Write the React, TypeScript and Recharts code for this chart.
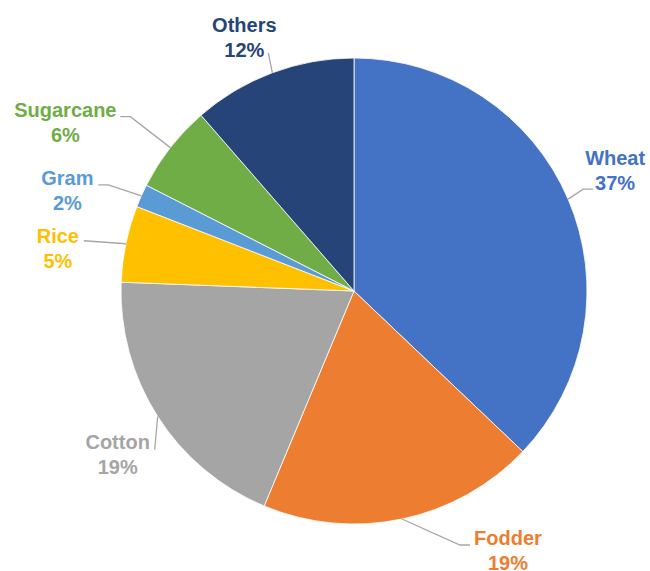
import { PieChart, Pie, Cell } from 'recharts'

const crops = ['Wheat', 'Fodder', 'Cotton', 'Rice', 'Gram', 'Sugarcane', 'Others']
const shares = [37.1, 19.2, 19.3, 5.3, 1.6, 6.1, 11.4]
const shareLabels = ['37%', '19%', '19%', '5%', '2%', '6%', '12%']
const colors = ['#4472C4', '#ED7D31', '#A5A5A5', '#FFC000', '#5B9BD5', '#70AD47', '#264478']

// leader-line knee (kx, ky), horizontal tail, text centre (tx, ty): all relative to the slice's outer edge midpoint
const labelLayout = [
  { kx: 15, ky: -10, tail: 10, tx: 47, ty: -29 },
  { kx: 58, ky: 26, tail: 10, tx: 106, ty: 31 },
  { kx: -3, ky: 33, tail: 0, tx: -40, ty: 38 },
  { kx: -42, ky: -3, tail: 0, tx: -68, ty: 4 },
  { kx: -33, ky: -11, tail: -10, tx: -74, ty: -6 },
  { kx: -40, ky: -31, tail: -10, tx: -105, ty: -26 },
  { kx: -4, ky: -20, tail: 0, tx: -28, ty: -36 },
]

const data = crops.map((name, i) => ({ name, value: shares[i], pct: shareLabels[i] }))

const RAD = Math.PI / 180

function renderLabel(props: any) {
  const { cx, cy, midAngle, outerRadius, index } = props
  const ex = cx + outerRadius * Math.cos(-midAngle * RAD)
  const ey = cy + outerRadius * Math.sin(-midAngle * RAD)
  const l = labelLayout[index]
  const kx = ex + l.kx
  const ky = ey + l.ky
  const color = colors[index]
  const tx = ex + l.tx
  const ty = ey + l.ty
  return (
    <g key={`lbl-${index}`}>
      <polyline
        points={`${ex},${ey} ${kx},${ky} ${kx + l.tail},${ky}`}
        fill="none"
        stroke="#A6A6A6"
        strokeWidth={1.3}
      />
      <text
        x={tx}
        y={ty - 12}
        fill={color}
        textAnchor="middle"
        dominantBaseline="central"
        fontSize={20}
        fontWeight="bold"
        fontFamily="'Liberation Sans', Arial, sans-serif"
      >
        {data[index].name}
      </text>
      <text
        x={tx}
        y={ty + 13}
        fill={color}
        textAnchor="middle"
        dominantBaseline="central"
        fontSize={20}
        fontWeight="bold"
        fontFamily="'Liberation Sans', Arial, sans-serif"
      >
        {data[index].pct}
      </text>
    </g>
  )
}

export default function App() {
  return (
    <div style={{ position: 'absolute', left: 0, top: 0, width: 650, height: 571, background: '#fff' }}>
      <PieChart width={650} height={571} margin={{ top: 0, right: 0, bottom: 0, left: 0 }}>
        <Pie
          data={data}
          dataKey="value"
          nameKey="name"
          cx={354}
          cy={291}
          outerRadius={233}
          startAngle={90}
          endAngle={-270}
          stroke="#fff"
          strokeWidth={0.8}
          label={renderLabel}
          labelLine={false}
          isAnimationActive={false}
        >
          {data.map((d, i) => (
            <Cell key={d.name} fill={colors[i]} />
          ))}
        </Pie>
      </PieChart>
    </div>
  )
}
